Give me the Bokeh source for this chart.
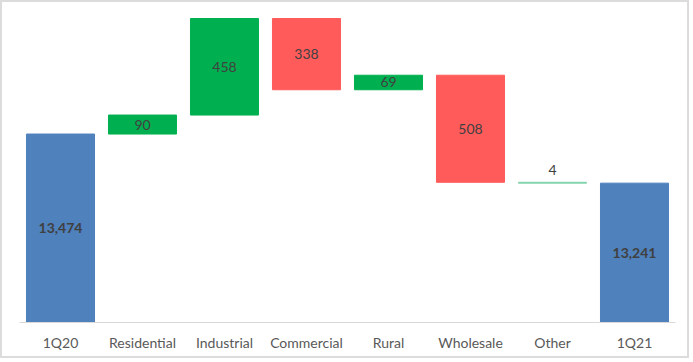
from bokeh.plotting import figure
from bokeh.models import ColumnDataSource, FactorRange, Range1d
from bokeh.embed import file_html
from bokeh.resources import INLINE
from bokeh.core.properties import value

# ---------------- data ----------------
categories = ["1Q20", "Residential", "Industrial", "Commercial", "Rural", "Wholesale", "Other", "1Q21"]
start_total = 13474
deltas = [90, 458, -338, 69, -508, -4]
end_total = 13241
value_labels = ["13,474", "90", "458", "338", "69", "508", "4", "13,241"]

# ---------------- styles ----------------
BLUE = "#4F81BD"
GREEN = "#00B050"
RED = "#FF5B5B"
MINT = "#7FD3AA"
bar_colors = [BLUE, GREEN, GREEN, RED, GREEN, RED, MINT, BLUE]
FONT = "Lato"

# ---------------- compute waterfall geometry ----------------
bottoms, tops = [], []
base = 12580
bottoms.append(base)
tops.append(start_total)
running = start_total
for d in deltas:
    nxt = running + d
    bottoms.append(min(running, nxt))
    tops.append(max(running, nxt))
    running = nxt
bottoms.append(base)
tops.append(end_total)

src = ColumnDataSource(dict(x=categories, bottom=bottoms, top=tops, color=bar_colors))

p = figure(x_range=FactorRange(*categories, range_padding=0),
           y_range=Range1d(base, 14060),
           width=689, height=358, output_backend="svg", toolbar_location=None,
           min_border_left=17, min_border_right=16, min_border_top=8, min_border_bottom=38,
           styles={"border": "2px solid #DCDCDC"})
p.outline_line_color = None
p.grid.visible = False
p.yaxis.visible = False

p.vbar(x="x", bottom="bottom", top="top", width=0.83, fill_color="color",
       line_color="color", line_width=1, source=src)

# labels
tot_idx = [0, len(categories) - 1]
tot_src = ColumnDataSource(dict(
    x=[categories[i] for i in tot_idx],
    y=[(bottoms[i] + tops[i]) / 2 for i in tot_idx],
    t=[value_labels[i] for i in tot_idx]))
p.text(x="x", y="y", text="t", source=tot_src, text_align="center", text_baseline="middle",
       text_font=value(FONT), text_font_size="14px", text_font_style="bold", text_color="#404040")

d_x, d_y, d_t = [], [], []
for i in range(1, len(categories) - 1):
    d_x.append(categories[i])
    h = tops[i] - bottoms[i]
    if h < 30:
        d_y.append(tops[i] + 57)
    else:
        d_y.append((bottoms[i] + tops[i]) / 2)
    d_t.append(value_labels[i])
d_src = ColumnDataSource(dict(x=d_x, y=d_y, t=d_t))
p.text(x="x", y="y", text="t", source=d_src, text_align="center", text_baseline="middle",
       text_font=value(FONT), text_font_size="14px", text_color="#404040")

ax = p.xaxis[0]
ax.axis_line_color = "#D9D9D9"
ax.axis_line_width = 1
ax.major_tick_line_color = None
ax.minor_tick_line_color = None
ax.major_label_standoff = 5
ax.major_label_text_font = FONT
ax.major_label_text_font_size = "14px"
ax.major_label_text_color = "#595959"

open("out.html", "w").write(file_html(p, INLINE))
